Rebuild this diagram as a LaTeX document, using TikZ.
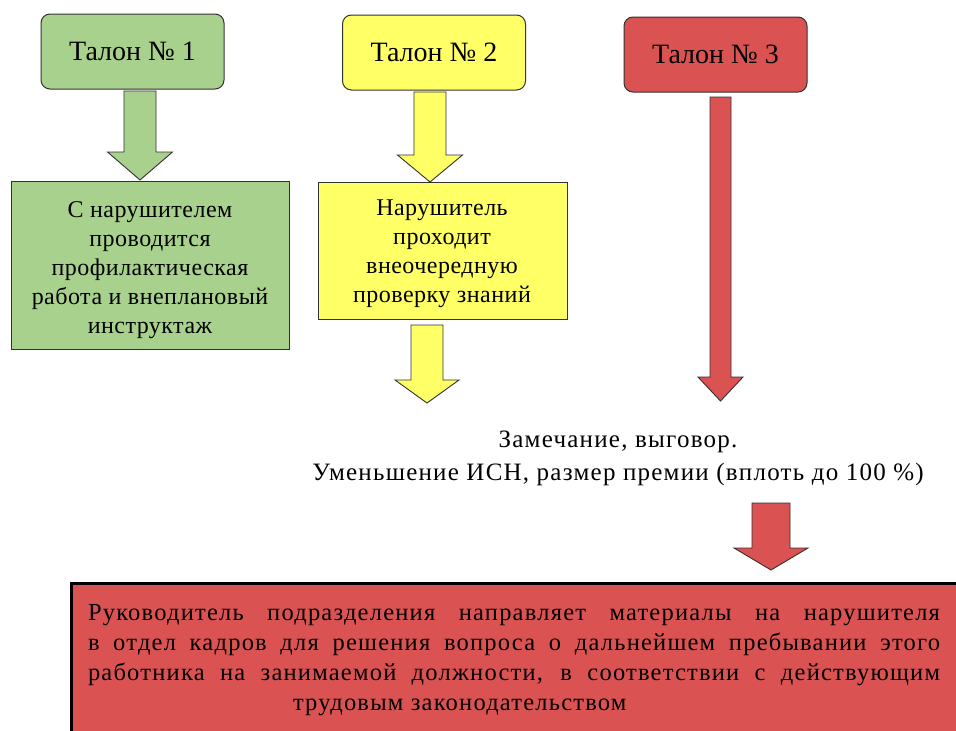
\documentclass[tikz,border=0pt]{standalone}
\usepackage{fontspec}
\newfontfamily\fb{Liberation Serif}
\newfontfamily\ft{Liberation Serif}[LetterSpace=5]
\newfontfamily\fs{Liberation Serif}[LetterSpace=2]
\definecolor{tgreen}{RGB}{169,209,142}
\definecolor{tyellow}{RGB}{255,255,102}
\definecolor{tred}{RGB}{219,82,82}
\definecolor{edgecol}{RGB}{50,50,50}
\tikzset{
  talon/.style={draw=edgecol, line width=1pt, rounded corners=9pt, minimum width=183pt, minimum height=75pt, inner sep=0pt, font=\fb\fontsize{28}{32}\selectfont},
  infobox/.style={draw=edgecol, line width=1pt, inner sep=0pt},
  boxtext/.style={align=center, font=\fs\fontsize{24}{29}\selectfont},
  arr/.style={draw=edgecol, line width=0.9pt, line join=miter}
}
\newcommand\blockarr[7]{%
  \draw[arr,fill=#7] (#1-#5,#2) -- (#1+#5,#2) -- (#1+#5,#3) -- (#1+#6,#3) -- (#1,#4) -- (#1-#6,#3) -- (#1-#5,#3) -- cycle;}
\begin{document}
\begin{tikzpicture}[x=1pt,y=-1pt]
\path[use as bounding box, fill=white] (0,0) rectangle (956,731);
% talons
\node[talon, fill=tgreen] (t1) at (132.5,51.5) {Талон № 1};
\node[talon, fill=tyellow] (t2) at (434,52.5) {Талон № 2};
\node[talon, fill=tred] (t3) at (715.5,54.5) {Талон № 3};
% boxes
\draw[infobox, fill=tgreen] (11,181) rectangle (289,349);
\node[boxtext] (g1) at (150,270) {С нарушителем\\проводится\\профилактическая\\работа и внеплановый\\инструктаж};
\draw[infobox, fill=tyellow] (318,182) rectangle (567,319);
\node[boxtext] (y1) at (442,254) {Нарушитель\\проходит\\внеочередную\\проверку знаний};
% arrows
\blockarr{140}{91}{152}{180}{16}{32.5}{tgreen}
\blockarr{430}{92}{155}{182}{16}{32.5}{tyellow}
\blockarr{427}{325}{380}{403}{16}{32}{tyellow}
\blockarr{720.5}{97}{377}{401}{10.5}{22.5}{tred}
\blockarr{771}{503}{548}{570}{19}{37}{tred}
% middle text
\node[align=center, font=\ft\fontsize{25}{33}\selectfont] (m) at (618,458) {Замечание, выговор.\\Уменьшение ИСН, размер премии (вплоть до 100 \%)};
% bottom box
\draw[fill=tred, draw=black, line width=3pt] (71,583) rectangle (970,745);
\node[align=justify, text width=852pt, inner sep=0pt, font=\ft\fontsize{24.5}{30}\selectfont] (b) at (514,660) {Руководитель подразделения направляет материалы на нарушителя\linebreak в отдел кадров для решения вопроса о дальнейшем пребывании этого\linebreak работника на занимаемой должности, в соответствии с действующим\linebreak \hspace*{205pt}трудовым законодательством};
\end{tikzpicture}
\end{document}
